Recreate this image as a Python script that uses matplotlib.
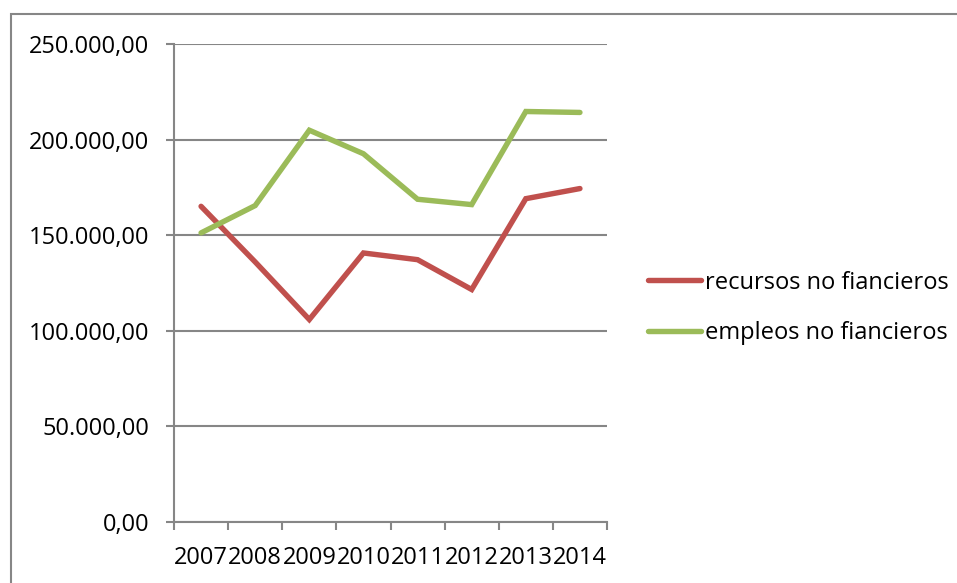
import matplotlib.pyplot as plt
from matplotlib.patches import Rectangle
from matplotlib.ticker import FuncFormatter, FixedLocator
import numpy as np

years = ["2007", "2008", "2009", "2010", "2011", "2012", "2013", "2014"]
recursos = [165100, 136000, 105900, 140700, 137200, 121600, 169100, 174400]
empleos = [151200, 165500, 204900, 192600, 168800, 166000, 214700, 214200]

plt.rcParams['font.family'] = ['Open Sans', 'DejaVu Sans']

grid_gray = '#868686'


def es_number(v, pos=None):
    # 250000 -> "250.000,00"
    s = f"{v:,.2f}"
    return s.replace(",", "X").replace(".", ",").replace("X", ".")


fig = plt.figure(figsize=(9.57, 5.83), dpi=100)
ax = fig.add_axes([174 / 957, 1 - 522 / 583, (607 - 174) / 957, (522 - 44) / 583])

x = np.arange(len(years))
ax.plot(x, recursos, color='#C0504D', lw=3.9, solid_capstyle='round',
        solid_joinstyle='miter', label='recursos no fiancieros')
ax.plot(x, empleos, color='#9BBB59', lw=3.9, solid_capstyle='round',
        solid_joinstyle='miter', label='empleos no fiancieros')

ax.set_xlim(-0.5, len(years) - 0.5)
ax.set_ylim(0, 250000)
ax.set_yticks(np.arange(0, 250001, 50000))
ax.yaxis.set_major_formatter(FuncFormatter(es_number))
ax.yaxis.grid(True, color=grid_gray, lw=1.5)
ax.set_axisbelow(True)

# tick marks sit between categories, labels at the centres
ax.xaxis.set_major_locator(FixedLocator(np.arange(-0.5, len(years), 1.0)))
ax.xaxis.set_major_formatter(FuncFormatter(lambda v, p: ""))
ax.xaxis.set_minor_locator(FixedLocator(x))
ax.set_xticklabels(years, minor=True)

ax.tick_params(axis='x', which='major', direction='out', length=6, width=1.5, color=grid_gray)
ax.tick_params(axis='x', which='minor', length=0, pad=17, labelsize=17)
ax.tick_params(axis='y', direction='out', length=6, width=1.5, color=grid_gray,
               pad=12, labelsize=17)

for side in ['top', 'right']:
    ax.spines[side].set_visible(False)
for side in ['left', 'bottom']:
    ax.spines[side].set_color(grid_gray)
    ax.spines[side].set_linewidth(1.5)

ax.legend(loc='center left', bbox_to_anchor=(1.095, 0.448), frameon=False, fontsize=17,
          borderpad=0, borderaxespad=0,
          handlelength=2.25, handletextpad=0.15, labelspacing=1.13)

# outer chart frame
fig.patches.append(Rectangle((11 / 957, -0.1), 1.2, 1.1 - 14 / 583, transform=fig.transFigure,
                             fill=False, edgecolor=grid_gray, lw=1.5))

fig.savefig('out.png', dpi=100, facecolor='white')
